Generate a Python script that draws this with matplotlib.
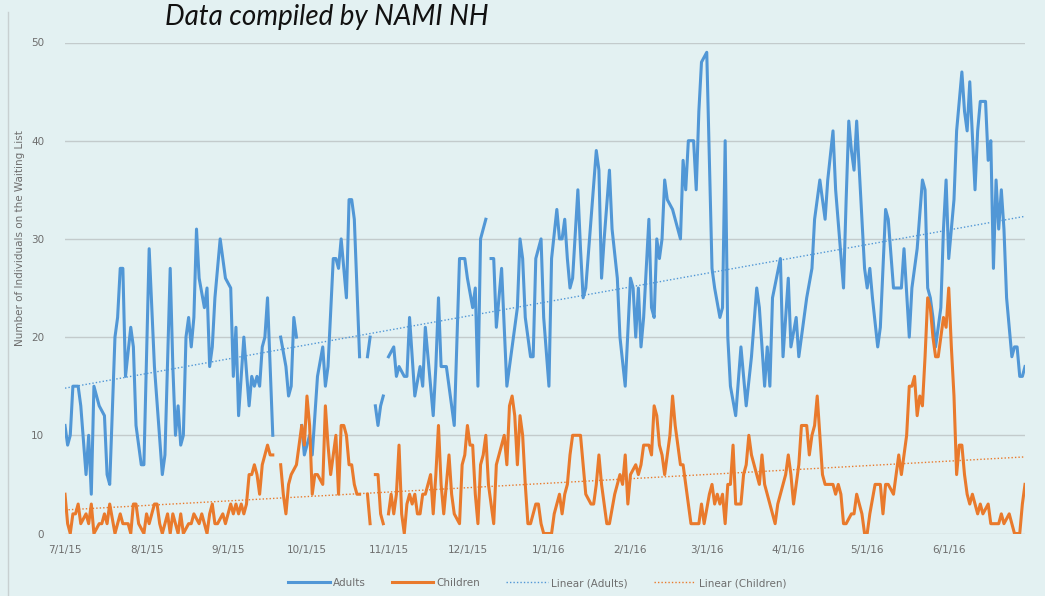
import numpy as np
import pandas as pd
import matplotlib
matplotlib.use("Agg")
import matplotlib.pyplot as plt
import matplotlib.dates as mdates
from matplotlib.lines import Line2D

# daily counts, as (days since 7/1/15, value); nan = no data that day
start = pd.Timestamp("2015-07-01")
end = pd.Timestamp("2016-06-30")
nan = np.nan

adults_days = [
    0, 1, 2, 3, 5, 6, 8, 9, 10, 11, 13, 15, 16, 17, 19, 20, 21, 22, 23, 25, 26, 27, 29, 30,
    32, 34, 37, 38, 40, 41, 42, 43, 44, 45, 46, 47, 48, 49, 50, 51, 53, 54, 55, 56, 57, 59,
    61, 63, 64, 65, 66, 68, 70, 71, 72, 73, 74, 75, 76, 77, 79, 80, 82, 84, 85, 86, 87, 88,
    89, 90, 91, 93, 94, 96, 98, 99, 100, 102, 103, 104, 105, 107, 108, 109, 110, 112, 113,
    115, 116, 117, 118, 119, 120, 121, 122, 123, 125, 126, 127, 129, 130, 131, 132, 133, 135,
    136, 137, 138, 140, 141, 142, 143, 145, 146, 148, 150, 152, 153, 155, 156, 157, 158, 159,
    160, 161, 162, 163, 164, 166, 168, 171, 172, 173, 174, 175, 176, 177, 178, 179, 181, 182,
    184, 185, 187, 188, 189, 190, 191, 192, 193, 195, 196, 197, 198, 200, 202, 203, 204, 205,
    207, 208, 210, 211, 213, 215, 216, 217, 218, 219, 220, 222, 223, 224, 225, 226, 227, 228,
    229, 231, 232, 234, 235, 236, 237, 239, 240, 241, 242, 244, 245, 246, 247, 249, 250, 251,
    252, 253, 255, 257, 259, 261, 263, 264, 266, 267, 268, 269, 272, 273, 275, 276, 278, 279,
    282, 284, 285, 287, 289, 290, 292, 293, 296, 297, 298, 299, 300, 301, 302, 304, 305, 306,
    307, 309, 310, 312, 313, 315, 316, 318, 319, 321, 322, 324, 326, 327, 328, 329, 330, 331,
    333, 334, 335, 336, 338, 339, 341, 342, 343, 344, 346, 347, 348, 350, 351, 352, 353, 354,
    355, 356, 357, 358, 360, 361, 362, 363, 364, 365,
]
adults_vals = [
    11, 9, 10, 15, 15, 13, 6, 10, 4, 15, 13, 12, 6, 5, 20, 22, 27, 27, 16, 21, 19, 11, 7, 7,
    29, 17, 6, 8, 27, 17, 10, 13, 9, 10, 20, 22, 19, 22, 31, 26, 23, 25, 17, 19, 24, 30,
    26, 25, 16, 21, 12, 20, 13, 16, 15, 16, 15, 19, 20, 24, 10, nan, 20, 17, 14, 15, 22, 20,
    nan, 11, 8, 10, 8, 16, 19, 15, 17, 28, 28, 27, 30, 24, 34, 34, 32, 18, nan,
    18, 20, nan, 13, 11, 13, 14, nan, 18, 19, 16, 17, 16, 16, 22, 18, 14, 17,
    15, 21, 18, 12, 17, 24, 17, 17, 15, 11, 28, 28, 26, 23, 25, 15, 30, 31,
    32, nan, 28, 28, 21, 27, 15, 21, 23, 30, 28, 22, 20, 18, 18, 28, 30, 22,
    15, 28, 33, 30, 30, 32, 28, 25, 26, 35, 29, 24, 25, 32, 39, 37, 26, 30,
    37, 31, 26, 20, 15, 26, 25, 20, 25, 19, 22, 32, 23, 22, 30, 28, 30, 36,
    34, 33, 32, 30, 38, 35, 40, 40, 35, 43, 48, 49, 38, 27, 25, 22, 23, 40,
    20, 15, 12, 19, 13, 18, 25, 23, 15, 19, 15, 24, 28, 18, 26, 19, 22, 18,
    24, 27, 32, 36, 32, 36, 41, 35, 25, 34, 42, 39, 37, 42, 37, 27, 25, 27,
    24, 19, 21, 33, 32, 25, 25, 25, 29, 20, 25, 29, 36, 35, 25, 24, 22, 19,
    23, 31, 36, 28, 34, 41, 47, 43, 41, 46, 35, 41, 44, 44, 38, 40, 27, 36,
    31, 35, 31, 24, 18, 19, 19, 16, 16, 17,
]

children_days = [
    0, 1, 2, 3, 4, 5, 6, 8, 9, 10, 11, 13, 14, 15, 16, 17, 19, 20, 21, 22, 24, 25, 26, 27,
    28, 30, 31, 32, 34, 35, 36, 37, 39, 40, 41, 43, 44, 45, 47, 48, 49, 51, 52, 54, 55, 56,
    57, 58, 60, 61, 62, 63, 64, 65, 66, 67, 68, 69, 70, 71, 72, 73, 74, 75, 76, 77, 78, 79,
    80, 82, 83, 84, 85, 86, 88, 89, 90, 91, 92, 93, 94, 95, 96, 98, 99, 100, 101, 103, 104,
    105, 106, 107, 108, 109, 110, 111, 112, 113, 115, 116, 117, 118, 119, 120, 121, 122, 123,
    124, 125, 126, 127, 128, 129, 130, 131, 132, 133, 134, 135, 136, 137, 138, 139, 140, 141,
    142, 143, 144, 146, 147, 148, 150, 151, 152, 153, 154, 155, 156, 157, 158, 159, 160, 161,
    163, 164, 166, 167, 168, 169, 170, 171, 172, 173, 174, 175, 176, 177, 179, 180, 181, 182,
    183, 185, 186, 187, 188, 189, 190, 191, 192, 193, 194, 196, 197, 198, 200, 201, 202, 203,
    204, 206, 207, 209, 211, 212, 213, 214, 215, 217, 218, 219, 220, 222, 223, 224, 225, 226,
    227, 228, 230, 231, 232, 234, 235, 236, 238, 239, 240, 241, 242, 243, 245, 246, 247, 248,
    249, 250, 251, 252, 253, 254, 255, 257, 258, 259, 260, 261, 262, 264, 265, 266, 267, 269,
    270, 271, 272, 274, 275, 276, 277, 278, 279, 280, 282, 283, 284, 285, 286, 287, 288, 289,
    291, 292, 293, 294, 295, 296, 297, 299, 300, 301, 303, 304, 305, 306, 308, 309, 310, 311,
    312, 313, 315, 316, 317, 318, 319, 320, 321, 322, 323, 324, 325, 326, 327, 328, 329, 330,
    331, 332, 333, 334, 335, 336, 337, 338, 339, 340, 341, 342, 343, 344, 345, 347, 348, 349,
    351, 352, 353, 355, 356, 357, 359, 360, 361, 362, 363, 364, 365,
]
children_vals = [
    4, 1, 0, 2, 2, 3, 1, 2, 1, 3, 0, 1, 1, 2, 1, 3, 0, 1, 2, 1, 1, 0, 3, 3,
    1, 0, 2, 1, 3, 3, 1, 0, 2, 0, 2, 0, 2, 0, 1, 1, 2, 1, 2, 0, 2, 3,
    1, 1, 2, 1, 2, 3, 2, 3, 2, 3, 2, 3, 6, 6, 7, 6, 4, 7, 8, 9, 8, 8,
    nan, 7, 4, 2, 5, 6, 7, 9, 11, 9, 14, 11, 4, 6, 6, 5, 13, 9, 6, 10, 4,
    11, 11, 10, 7, 7, 5, 4, 4, nan, 4, 1, nan, 6, 6, 2, 1, nan, 2,
    4, 2, 4, 9, 2, 0, 3, 4, 3, 4, 2, 2, 4, 4, 5, 6, 2, 6,
    11, 5, 2, 8, 4, 2, 1, 7, 8, 11, 9, 9, 4, 1, 7, 8, 10, 5,
    1, 7, 9, 10, 7, 13, 14, 12, 7, 12, 10, 5, 1, 1, 3, 3, 1, 0,
    0, 0, 2, 3, 4, 2, 4, 5, 8, 10, 10, 10, 7, 4, 3, 3, 5, 8,
    5, 1, 1, 4, 6, 5, 8, 3, 6, 7, 6, 7, 9, 9, 8, 13, 12, 9,
    8, 6, 10, 14, 11, 7, 7, 5, 1, 1, 1, 1, 3, 1, 4, 5, 3, 4,
    3, 4, 1, 5, 5, 9, 3, 3, 6, 7, 10, 8, 7, 5, 8, 5, 4, 2,
    1, 3, 4, 6, 8, 6, 3, 5, 7, 11, 11, 8, 10, 11, 14, 10, 6, 5,
    5, 5, 4, 5, 4, 1, 1, 2, 2, 4, 2, 0, 0, 2, 5, 5, 5, 2,
    5, 5, 4, 6, 8, 6, 8, 10, 15, 15, 16, 12, 14, 13, 18, 24, 23, 20,
    18, 18, 20, 22, 21, 25, 19, 14, 6, 9, 9, 6, 4, 3, 4, 2, 3, 2,
    3, 1, 1, 1, 2, 1, 2, 1, 0, 0, 0, 3, 5,
]

# Excel linear trendlines, value at first and last day
adults_trend = [14.8, 32.3]
children_trend = [2.4, 7.8]

series_names = ["Adults", "Children", "Linear (Adults)", "Linear (Children)"]
y_label = "Number of Individuals on the Waiting List"
title = "Data compiled by NAMI NH"

blue = "#5197D6"
orange = "#E97A2C"
bg = "#E3F1F2"
grey_text = "#6E6E6E"

adults_dates = start + pd.to_timedelta(adults_days, unit="D")
children_dates = start + pd.to_timedelta(children_days, unit="D")
trend_dates = [start, end]

fig = plt.figure(figsize=(10.45, 5.96), dpi=100)
fig.patch.set_facecolor(bg)
ax = fig.add_axes([65 / 1045, 62.5 / 596, 960 / 1045, 491 / 596])
ax.set_facecolor(bg)

ax.plot(adults_dates, adults_vals, color=blue, lw=2.2, solid_joinstyle="round", label=series_names[0])
ax.plot(children_dates, children_vals, color=orange, lw=2.2, solid_joinstyle="round", label=series_names[1])
ax.plot(trend_dates, adults_trend, color=blue, lw=1.0, linestyle=(0, (1, 1.5)), label=series_names[2])
ax.plot(trend_dates, children_trend, color=orange, lw=1.0, linestyle=(0, (1, 1.5)), label=series_names[3])

ax.set_xlim(start, end)
ax.set_ylim(0, 50)
ax.set_yticks(range(0, 51, 10))
ax.xaxis.set_major_locator(mdates.MonthLocator(bymonthday=1))
ax.xaxis.set_major_formatter(
    plt.FuncFormatter(lambda v, pos: "{d.month}/{d.day}/{y}".format(d=mdates.num2date(v), y=mdates.num2date(v).strftime("%y")))
)
ax.grid(axis="y", color="#C3CBCC", lw=1.0)
ax.set_axisbelow(True)
for s in ax.spines.values():
    s.set_visible(False)
ax.tick_params(axis="y", length=0, pad=15, labelsize=7.5, labelcolor=grey_text)
ax.tick_params(axis="x", length=0, pad=8, labelsize=7.5, labelcolor=grey_text)

fig.text(20 / 1045, 1 - 238 / 596, y_label, rotation=90, ha="center", va="center",
         fontsize=7.5, color=grey_text)
fig.text(327 / 1045, 1 - 17 / 596, title, ha="center", va="center", fontsize=20,
         style="italic", family=["Lato", "DejaVu Sans"], color="#111111")

fig.legend(loc="center", bbox_to_anchor=(537 / 1045, 1 - 583 / 596), ncol=4, frameon=False,
           fontsize=7.5, handlelength=4.0, handletextpad=0.3, columnspacing=2.5,
           labelcolor=grey_text)

# thin frame line on the left edge of the graphic
fig.add_artist(Line2D([8 / 1045, 8 / 1045], [0, 1 - 12 / 596], color="#C8D0D1", lw=1.0))

fig.savefig("out.png", dpi=100, facecolor=bg)
